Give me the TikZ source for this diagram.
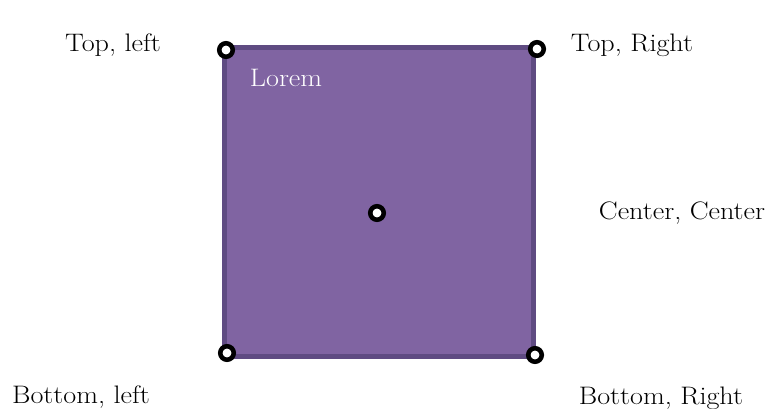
\documentclass[tikz,border=0pt]{standalone}
\definecolor{boxfill}{HTML}{8064A2}
\definecolor{boxline}{HTML}{5F4B82}
\newcommand{\wide}[1]{\scalebox{1.28}[1.15]{#1}}
\begin{document}
\begin{tikzpicture}[x=1pt,y=-1pt,
  lbl/.style={font=\fontsize{22}{24}\selectfont, text=black, inner sep=0pt},
  dot/.style={circle, draw=black, fill=white, line width=4.6pt, minimum size=13.5pt, inner sep=0pt}]
\useasboundingbox (0,0) rectangle (769,409);
\fill[boxfill, draw=boxline, line width=5pt] (224.5,48) rectangle (533,356);
\node[dot] (tl) at (226,50) {};
\node[dot] (tr) at (537,49) {};
\node[dot] (bl) at (227,353) {};
\node[dot] (br) at (535,355) {};
\node[dot] (c) at (377,213) {};
\node[lbl] (ttl) at (113,45) {\wide{Top, left}};
\node[lbl] (ttr) at (632,45) {\wide{Top, Right}};
\node[lbl, text=white] (lorem) at (286,78) {\wide{Lorem}};
\node[lbl] (tcc) at (682,213) {\wide{Center, Center}};
\node[lbl] (tbl) at (81,397) {\wide{Bottom, left}};
\node[lbl] (tbr) at (661,398) {\wide{Bottom, Right}};
\end{tikzpicture}
\end{document}
